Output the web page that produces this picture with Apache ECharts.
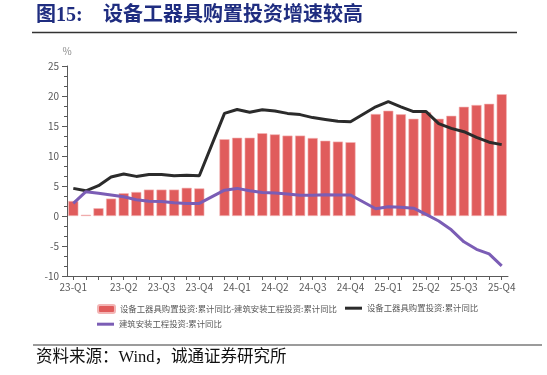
<!DOCTYPE html>
<html>
<head>
<meta charset="utf-8">
<script src="https://cdn.jsdelivr.net/npm/echarts@6/dist/echarts.min.js"></script>
<style>
html,body{margin:0;padding:0;background:#fff;}
#c{width:547px;height:375px;}
</style>
</head>
<body>
<div id="c"></div>
<script>
// Categories (monthly cumulative data points)
var months = ['2023-02','2023-03','2023-04','2023-05','2023-06','2023-07','2023-08','2023-09','2023-10','2023-11','2023-12',
  '2024-01','2024-02','2024-03','2024-04','2024-05','2024-06','2024-07','2024-08','2024-09','2024-10','2024-11','2024-12',
  '2025-01','2025-02','2025-03','2025-04','2025-05','2025-06','2025-07','2025-08','2025-09','2025-10','2025-11','2025-12'];
var xTickLabels = ['23-Q1','','','','23-Q2','','','23-Q3','','','23-Q4',
  '','','24-Q1','','','24-Q2','','','24-Q3','','','24-Q4',
  '','','25-Q1','','','25-Q2','','','25-Q3','','','25-Q4'];
var yTicks = [-10,-5,0,5,10,15,20,25];

var nameDiff = '设备工器具购置投资:累计同比-建筑安装工程投资:累计同比';
var nameEquip = '设备工器具购置投资:累计同比';
var nameBuild = '建筑安装工程投资:累计同比';

var diffValues = [2.5,0.2,1.3,2.9,3.8,4.0,4.4,4.4,4.4,4.7,4.6,
  null,12.8,13.05,13.05,13.8,13.6,13.4,13.4,13.0,12.55,12.4,12.3,
  null,17.0,17.55,16.95,16.2,17.3,16.2,16.7,18.2,18.5,18.7,20.3];
var equipValues = [4.6,4.2,5.05,6.5,7.0,6.6,6.9,6.9,6.7,6.8,6.7,
  null,17.1,17.75,17.3,17.7,17.5,17.1,16.9,16.4,16.1,15.8,15.7,
  null,18.2,19.05,18.2,17.4,17.4,15.4,14.6,14.05,13.1,12.3,11.9];
var buildValues = [2.1,4.05,3.8,3.5,3.2,2.7,2.45,2.4,2.2,2.1,2.1,
  null,4.3,4.6,4.2,3.9,3.85,3.67,3.45,3.45,3.55,3.5,3.5,
  null,1.2,1.55,1.45,1.3,0.28,-0.83,-2.3,-4.3,-5.55,-6.3,-8.3];

var chart = echarts.init(document.getElementById('c'), null, {renderer:'canvas'});
var labelFont = "'Noto Sans CJK SC', 'Noto Sans', sans-serif";
var serifFont = "'Liberation Serif', 'DejaVu Serif', 'Noto Sans CJK SC', serif";
var legendText = {fontSize: 8.4, color: '#595959', fontFamily: labelFont};
var option = {
  animation: false,
  backgroundColor: '#ffffff',
  grid: {left: 67, right: 39, top: 66, bottom: 99, containLabel: false},
  legend: [{
    left: 97, top: 304, padding: 0, itemWidth: 17, itemHeight: 8, itemGap: 10,
    textStyle: legendText,
    data: [{name: nameDiff, icon: 'roundRect'}]
  },{
    left: 345, top: 304, padding: 0, itemWidth: 17, itemHeight: 3, itemGap: 10,
    textStyle: legendText,
    data: [{name: nameEquip, icon: 'rect'}]
  },{
    left: 97, top: 320, padding: 0, itemWidth: 17, itemHeight: 3, itemGap: 10,
    textStyle: legendText,
    data: [{name: nameBuild, icon: 'rect'}]
  }],
  xAxis: {
    type: 'category', data: months, boundaryGap: true,
    axisLine: {onZero: false, lineStyle: {color: '#595959', width: 1}},
    axisTick: {show: true, alignWithLabel: true, interval: 0, length: 4, lineStyle: {color: '#595959'}},
    axisLabel: {interval: 0, fontSize: 10, color: '#595959', fontFamily: labelFont, margin: 6,
      formatter: function(v, i){ return xTickLabels[i]; }}
  },
  yAxis: {
    type: 'value', min: yTicks[0], max: yTicks[yTicks.length-1], interval: 5,
    name: '%', nameLocation: 'end', nameGap: 10,
    nameTextStyle: {fontSize: 10, color: '#8a8a8a', fontFamily: labelFont, align: 'center'},
    axisLine: {show: true, lineStyle: {color: '#595959', width: 1}},
    axisTick: {show: true, length: 5, lineStyle: {color: '#595959'}},
    minorTick: {show: true, splitNumber: 3, length: 3, lineStyle: {color: '#595959'}},
    splitLine: {show: false},
    axisLabel: {fontSize: 10, color: '#595959', fontFamily: labelFont, margin: 8}
  },
  series: [{
    name: nameDiff, type: 'bar', data: diffValues, barCategoryGap: '20%',
    itemStyle: {color: '#E05C5C', borderColor: '#F3B5B5', borderWidth: 0.6}
  },{
    name: nameEquip, type: 'line', data: equipValues, symbol: 'none', connectNulls: true,
    lineStyle: {color: '#2B2B2B', width: 3}, itemStyle: {color: '#2B2B2B'}
  },{
    name: nameBuild, type: 'line', data: buildValues, symbol: 'none', connectNulls: true,
    lineStyle: {color: '#7B5DB5', width: 3}, itemStyle: {color: '#7B5DB5'}
  }],
  graphic: [
    {type: 'text', left: 36, top: 6, style: {text: '图15:', font: 'bold 20px ' + serifFont, fill: '#1F2D80'}},
    {type: 'text', left: 103, top: 6, style: {text: '设备工器具购置投资增速较高', font: 'bold 20px ' + serifFont, fill: '#1F2D80'}},
    {type: 'line', shape: {x1: 32, y1: 32.5, x2: 517, y2: 32.5}, style: {stroke: '#333333', lineWidth: 1.5}},
    {type: 'line', shape: {x1: 33, y1: 345, x2: 542, y2: 345}, style: {stroke: '#7a7a7a', lineWidth: 1.5}},
    {type: 'text', left: 36, top: 349, style: {text: '资料来源：Wind，诚通证券研究所', font: '16.5px ' + serifFont, fill: '#111111'}}
  ]
};
chart.setOption(option);
</script>
</body>
</html>
